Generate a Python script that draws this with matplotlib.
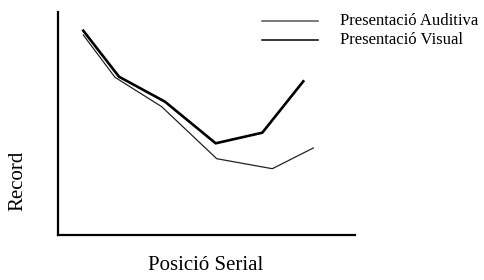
import matplotlib.pyplot as plt
from matplotlib.lines import Line2D

# values (arbitrary units)
audit_x = [25.3, 57.0, 103.7, 158.7, 214.3, 255.3]
audit_y = [200.0, 157.7, 128.3, 76.3, 66.3, 87.0]
visual_x = [25.3, 61.0, 107.0, 157.7, 204.3, 245.3]
visual_y = [204.3, 158.3, 133.3, 91.7, 102.3, 153.7]
labels = ['Presentació Auditiva', 'Presentació Visual']

plt.rcParams['font.family'] = ['Liberation Serif', 'DejaVu Serif']

W, H = 484, 280
fig = plt.figure(figsize=(W / 100, H / 100), dpi=100)
ax = fig.add_axes([58 / W, 1 - 235 / H, (355 - 58) / W, (235 - 12) / H])

ax.plot(audit_x, audit_y, color='#222222', lw=0.9)
ax.plot(visual_x, visual_y, color='black', lw=1.9)
ax.set_xlim(0, 297)
ax.set_ylim(0, 223)

for side in ['top', 'right']:
    ax.spines[side].set_visible(False)
for side in ['left', 'bottom']:
    ax.spines[side].set_linewidth(1.6)
ax.set_xticks([])
ax.set_yticks([])

# legend drawn by hand at the top right
key_colors = ['#555555', 'black']
for i, (lab, col) in enumerate(zip(labels, key_colors)):
    yy = 1 - (21 + 19 * i) / H
    fig.add_artist(Line2D([262 / W, 318 / W], [yy, yy], color=col, lw=1.1,
                          transform=fig.transFigure))
    fig.text(340 / W, yy, lab, ha='left', va='center', fontsize=12)

fig.text(206 / W, 1 - 266 / H, 'Posició Serial', ha='center', va='center', fontsize=15)
fig.text(18 / W, 1 - 181 / H, 'Record', ha='center', va='center', rotation=90, fontsize=15)

fig.savefig('out.png', dpi=100)
